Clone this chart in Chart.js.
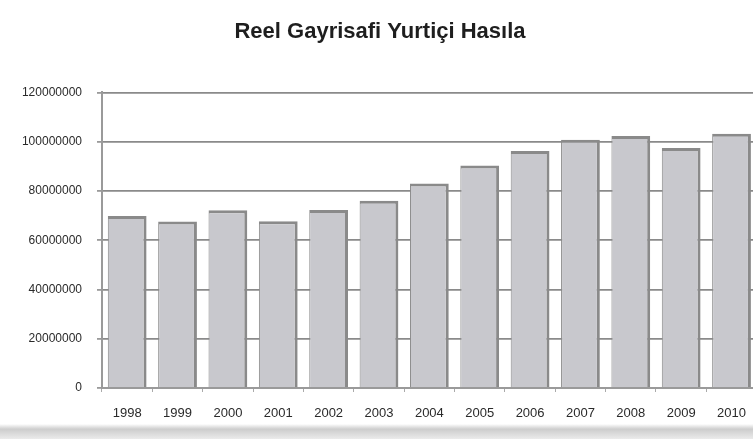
<!DOCTYPE html>
<html>
<head>
<meta charset="utf-8">
<script src="https://cdn.jsdelivr.net/npm/chart.js@4.4.0/dist/chart.umd.min.js"></script>
<style>
  html, body { margin: 0; padding: 0; background: #fff; overflow: hidden; }
  #wrap { width: 760px; height: 439px; position: relative; }
</style>
</head>
<body>
<div id="wrap"><canvas id="gsyh"></canvas></div>
<script>
// Reel GSYH, yıllar ve değerler
const years = ["1998", "1999", "2000", "2001", "2002", "2003", "2004", "2005", "2006", "2007", "2008", "2009", "2010"];
const gdpValues = [69800000, 67600000, 72200000, 67700000, 72300000, 76000000, 83000000, 90300000, 96200000, 100800000, 102300000, 97400000, 103200000];
const yTicks = [0, 20000000, 40000000, 60000000, 80000000, 100000000, 120000000];

const bgPlugin = {
  id: "bg",
  beforeDraw(chart) {
    const { ctx, width, height } = chart;
    ctx.save();
    ctx.fillStyle = "#ffffff";
    ctx.fillRect(0, 0, width, height);
    // alttaki gri gölge şeridi
    const g = ctx.createLinearGradient(0, 424, 0, height);
    g.addColorStop(0, "rgba(200,200,200,0)");
    g.addColorStop(0.35, "rgba(205,205,205,1)");
    g.addColorStop(1, "rgba(235,235,235,1)");
    ctx.fillStyle = g;
    ctx.fillRect(0, 424, width, height - 424);
    ctx.restore();
  }
};

const ctx = document.getElementById("gsyh").getContext("2d");
new Chart(ctx, {
  type: "bar",
  data: {
    labels: years,
    datasets: [{
      label: "Reel GSYH",
      data: gdpValues,
      backgroundColor: "#c8c8cd",
      borderColor: "#8a8a8a",
      borderWidth: { top: 3, right: 3, left: 1, bottom: 0 },
      borderSkipped: false,
      categoryPercentage: 1,
      barPercentage: 0.77,
    }],
  },
  options: {
    responsive: true,
    maintainAspectRatio: false,
    animation: false,
    layout: { padding: { left: 0, right: 0, top: 0, bottom: 0 } },
    plugins: {
      legend: { display: false },
      tooltip: { enabled: false },
      title: {
        display: true,
        text: "Reel Gayrisafi Yurtiçi Hasıla",
        color: "#1e1e1e",
        font: { family: "Liberation Sans, Arial, sans-serif", size: 22, weight: "bold" },
        padding: { top: 19, bottom: 47 },
      },
    },
    scales: {
      y: {
        min: 0,
        max: 120000000,
        afterFit: (s) => { s.width = 102; },
        afterBuildTicks: (s) => { s.ticks = yTicks.map(v => ({ value: v })); },
        ticks: {
          color: "#2a2a2a",
          padding: 15,
          font: { family: "Liberation Sans Narrow, Liberation Sans, Arial, sans-serif", size: 12 },
          callback: (v) => String(v),
        },
        grid: { color: "#8a8a8a", lineWidth: 1.8, tickLength: 5, tickColor: "#9a9a9a" },
        border: { display: true, color: "#9a9a9a", width: 2 },
      },
      x: {
        afterFit: (s) => { s.height = 51; },
        ticks: {
          color: "#2a2a2a",
          padding: 14,
          maxRotation: 0,
          font: { family: "Liberation Sans Narrow, Liberation Sans, Arial, sans-serif", size: 13 },
        },
        grid: { offset: true, drawOnChartArea: false, tickLength: 4, color: "#aaa" },
        border: { display: true, color: "#9a9a9a", width: 2 },
      },
    },
  },
  plugins: [bgPlugin],
});
</script>
</body>
</html>
